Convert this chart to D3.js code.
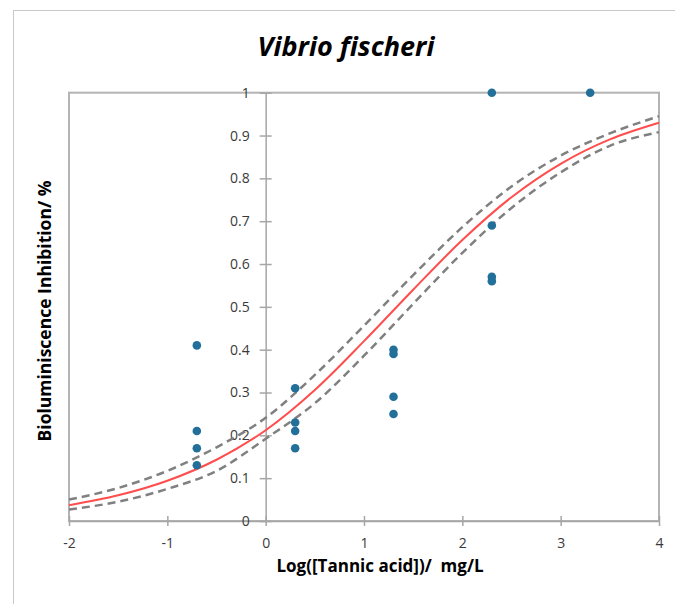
<!DOCTYPE html>
<html>
<head>
<meta charset="utf-8">
<script src="https://cdn.jsdelivr.net/npm/d3@7"></script>
<style>
  body { margin: 0; background: #fff; }
  .axis-text { font-family: "Open Sans", sans-serif; font-weight: bold; fill: #000; }
  .tick text { font-family: "Open Sans", sans-serif; font-size: 14px; fill: #3a3a3a; }
</style>
</head>
<body>
<div id="scatter"></div>
<script>
// Measured points: log10 of concentration vs inhibition
var pointX = [-0.7, -0.7, -0.7, -0.7, 0.3, 0.3, 0.3, 0.3, 1.3, 1.3, 1.3, 1.3, 2.3, 2.3, 2.3, 2.3, 3.3];
var pointY = [0.41, 0.21, 0.17, 0.13, 0.31, 0.23, 0.21, 0.17, 0.40, 0.39, 0.29, 0.25, 1.0, 0.69, 0.57, 0.56, 1.0];

// Fitted curve and its confidence band
var curveX = [-2, -1.5, -1, -0.5, 0, 0.5, 1, 1.5, 2, 2.5, 3, 3.5, 4];
var fitY = [0.037, 0.060, 0.094, 0.143, 0.212, 0.306, 0.420, 0.540, 0.656, 0.756, 0.834, 0.891, 0.930];
var upperY = [0.050, 0.077, 0.117, 0.172, 0.241, 0.341, 0.456, 0.574, 0.686, 0.781, 0.853, 0.905, 0.945];
var lowerY = [0.027, 0.045, 0.075, 0.117, 0.192, 0.275, 0.386, 0.507, 0.626, 0.731, 0.814, 0.876, 0.908];

// Tick labels
var xTicks = [-2, -1, 0, 1, 2, 3, 4];
var yTicks = [0, 0.1, 0.2, 0.3, 0.4, 0.5, 0.6, 0.7, 0.8, 0.9, 1];
var yTickLabels = ["0", "0.1", "0.2", "0.3", "0.4", "0.5", "0.6", "0.7", "0.8", "0.9", "1"];

var svgWidth = 675;
var svgHeight = 604;

var chartMargin = {
  top: 92.7,
  right: 16,
  bottom: 83,
  left: 69
};

var chartWidth = svgWidth - chartMargin.left - chartMargin.right;
var chartHeight = svgHeight - chartMargin.top - chartMargin.bottom;

var svg = d3.select("#scatter")
    .append("svg")
    .attr("height", svgHeight)
    .attr("width", svgWidth);

// outer frame of the chart object
svg.append("rect")
    .attr("x", 13.5)
    .attr("y", 10.5)
    .attr("width", 700)
    .attr("height", 700)
    .attr("fill", "none")
    .attr("stroke", "#c8c8c8")
    .attr("stroke-width", 1);

var chartGroup = svg.append("g")
    .attr("transform", `translate(${chartMargin.left}, ${chartMargin.top})`);

var xScale = d3.scaleLinear().domain([-2, 4]).range([0, chartWidth]);
var yScale = d3.scaleLinear().domain([0, 1]).range([chartHeight, 0]);

// plot area border
chartGroup.append("rect")
    .attr("width", chartWidth)
    .attr("height", chartHeight)
    .attr("fill", "none")
    .attr("stroke", "#b4b4b4")
    .attr("stroke-width", 2);

var xAxis = d3.axisBottom(xScale)
    .tickValues(xTicks)
    .tickFormat(d => String(d))
    .tickSizeInner(5)
    .tickSizeOuter(0)
    .tickPadding(12);

var yAxis = d3.axisLeft(yScale)
    .tickValues(yTicks)
    .tickFormat((d, i) => yTickLabels[i])
    .tickSizeInner(6)
    .tickSizeOuter(0)
    .tickPadding(10);

var xAxisGroup = chartGroup.append("g")
    .attr("transform", `translate(0, ${yScale(0)})`)
    .call(xAxis);
xAxisGroup.selectAll(".tick line").attr("y1", -5);

var yAxisGroup = chartGroup.append("g")
    .attr("transform", `translate(${xScale(0)}, 0)`)
    .call(yAxis);
yAxisGroup.selectAll(".tick line").attr("x1", 6);

chartGroup.selectAll(".domain, .tick line")
    .attr("stroke", "#a6a6a6")
    .attr("stroke-width", 1.5);

// curves
var bandLine = function(values) {
  return d3.line()
      .x((d, i) => xScale(curveX[i]))
      .y(d => yScale(d))
      .curve(d3.curveMonotoneX)(values);
};

chartGroup.append("path")
    .attr("d", bandLine(upperY))
    .attr("fill", "none")
    .attr("stroke", "#808080")
    .attr("stroke-width", 2.5)
    .attr("stroke-dasharray", "8,5");

chartGroup.append("path")
    .attr("d", bandLine(lowerY))
    .attr("fill", "none")
    .attr("stroke", "#808080")
    .attr("stroke-width", 2.5)
    .attr("stroke-dasharray", "8,5");

chartGroup.append("path")
    .attr("d", bandLine(fitY))
    .attr("fill", "none")
    .attr("stroke", "#ff4d4d")
    .attr("stroke-width", 2);

// points
chartGroup.selectAll("circle")
    .data(pointX)
    .enter()
    .append("circle")
    .attr("cx", d => xScale(d))
    .attr("cy", (d, i) => yScale(pointY[i]))
    .attr("r", 4.3)
    .attr("fill", "#226f9a");

// title
svg.append("text")
    .attr("x", 346)
    .attr("y", 56)
    .attr("text-anchor", "middle")
    .attr("class", "axis-text")
    .style("font-size", "27px")
    .style("font-style", "italic")
    .text("Vibrio fischeri");

// y-axis label
svg.append("text")
    .attr("transform", "translate(51, 311) rotate(-90)")
    .attr("text-anchor", "middle")
    .attr("class", "axis-text")
    .style("font-size", "17.5px")
    .text("Bioluminiscence Inhibition/ %");

// x-axis label
svg.append("text")
    .attr("x", 380)
    .attr("y", 572)
    .attr("text-anchor", "middle")
    .attr("class", "axis-text")
    .style("font-size", "17px")
    .style("white-space", "pre")
    .text("Log([Tannic acid])/  mg/L");
</script>
</body>
</html>
